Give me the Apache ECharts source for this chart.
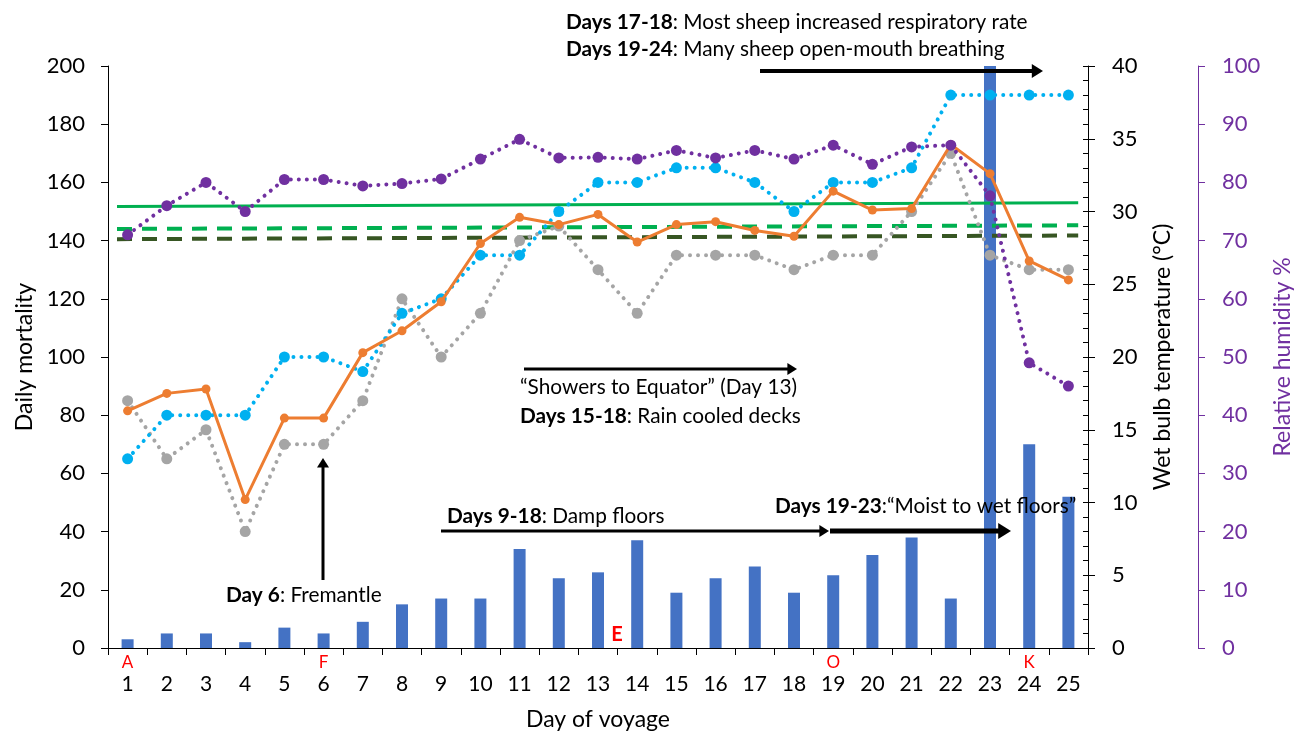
<!DOCTYPE html>
<html>
<head>
<meta charset="utf-8">
<script src="https://cdn.jsdelivr.net/npm/echarts@6/dist/echarts.min.js"></script>
<style>
html,body{margin:0;padding:0;background:#fff;}
#chart{width:1303px;height:731px;}
</style>
</head>
<body>
<div id="chart"></div>
<script>
// ---- data ----
const days = ['1','2','3','4','5','6','7','8','9','10','11','12','13','14','15','16','17','18','19','20','21','22','23','24','25'];
const portLetters = {'1':'A','6':'F','19':'O','24':'K'};
const dailyMortality = [3,5,5,2,7,5,9,15,17,17,34,24,26,37,19,24,28,19,25,32,38,17,200,70,52];
const wetBulbOrange = [16.3,17.5,17.8,10.2,15.8,15.8,20.3,21.8,23.8,27.8,29.6,29.1,29.8,27.9,29.1,29.3,28.7,28.3,31.4,30.1,30.2,34.6,32.6,26.6,25.3];
const tempBlue = [13,16,16,16,20,20,19,23,24,27,27,30,32,32,33,33,32,30,32,32,33,38,38,38,38];
const tempGrey = [17,13,15,8,14,14,17,24,20,23,28,29,26,23,27,27,27,26,27,27,30,34,27,26,26];
const relHumidity = [71,76,80,75,80.5,80.5,79.4,79.8,80.6,84,87.4,84.2,84.3,84,85.5,84.2,85.5,84,86.4,83.1,86.1,86.4,77.7,49,45];
const thresholdSolid = [[0.73,30.35],[25.25,30.6]];
const thresholdDashLight = [[0.73,28.8],[25.25,29.05]];
const thresholdDashDark = [[0.73,28.1],[25.25,28.35]];

const FONT = 'Lato, "Open Sans", sans-serif';
const chart = echarts.init(document.getElementById('chart'), null, {renderer:'canvas'});

const dotted = (color, w) => ({color: color, width: w, type: [0.01, 8], cap: 'round'});

function arrowH(x1, x2, y, w, head) {
  return [
    {type:'line', shape:{x1:x1, y1:y, x2:x2 - head*1.4, y2:y}, style:{stroke:'#000', lineWidth:w}, z:50},
    {type:'polygon', shape:{points:[[x2, y],[x2 - head*1.6, y - head],[x2 - head*1.6, y + head]]}, style:{fill:'#000'}, z:50}
  ];
}
function arrowUp(x, y1, y2, w, head) {
  return [
    {type:'line', shape:{x1:x, y1:y1, x2:x, y2:y2 + head*1.4}, style:{stroke:'#000', lineWidth:w}, z:50},
    {type:'polygon', shape:{points:[[x, y2],[x - head, y2 + head*1.6],[x + head, y2 + head*1.6]]}, style:{fill:'#000'}, z:50}
  ];
}
function label(x, y, text, size) {
  return {type:'text', x:x, y:y, z:50, style:{text:text, fontFamily:FONT, fontSize:size, fill:'#000', verticalAlign:'middle', align:'left',
    rich:{b:{fontWeight:'bold', fontFamily:FONT, fontSize:size, fill:'#000'}}}};
}

const TS = 20.8;
const graphics = [].concat(
  [label(566, 22, '{b|Days 17-18}: Most sheep increased respiratory rate', TS),
   label(566, 49, '{b|Days 19-24}: Many sheep open-mouth breathing', TS)],
  arrowH(760, 1043, 71, 4, 7),
  [label(520, 387, '\u201CShowers to Equator\u201D (Day 13)', TS),
   label(520, 416, '{b|Days 15-18}: Rain cooled decks', TS)],
  arrowH(524, 797, 369, 3, 6),
  [label(226, 595, '{b|Day 6}: Fremantle', TS)],
  arrowUp(323, 580, 458, 3, 6),
  [label(447, 516, '{b|Days 9-18}: Damp floors', TS)],
  arrowH(441, 829, 531, 3, 6),
  [label(775, 506, '{b|Days 19-23}:\u201CMoist to wet floors\u201D', TS)],
  arrowH(830, 1011, 531, 5, 8),
  [{type:'text', x:617, y:635, z:50, style:{text:'E', fontFamily:FONT, fontSize:20, fontWeight:'bold', fill:'#FF0000', align:'center', verticalAlign:'middle'}}]
);

const option = {
  animation: false,
  backgroundColor: '#fff',
  textStyle: {fontFamily: FONT},
  grid: {left:108, right:215, top:66, bottom:83, containLabel:false, outerBoundsMode:'none'},
  xAxis: [
    {type:'category', data: days, boundaryGap:true,
     axisLine:{lineStyle:{color:'#000', width:1}},
     axisTick:{show:true, length:7, lineStyle:{color:'#000'}},
     axisLabel:{margin:5, interval:0, fontFamily:FONT,
       formatter: function(v){ return '{r|' + (portLetters[v] || ' ') + '}\n{n|' + v + '}'; },
       rich:{r:{color:'#FF0000', fontSize:17, lineHeight:20, fontFamily:FONT},
             n:{color:'#000', fontSize:21, lineHeight:23, fontFamily:FONT}}},
     name:'Day of voyage', nameLocation:'middle', nameGap:60,
     nameTextStyle:{color:'#000', fontSize:23, fontFamily:FONT}},
    {type:'value', min:0.5, max:25.5, show:false}
  ],
  yAxis: [
    {type:'value', min:0, max:200, interval:20, position:'left',
     axisLine:{show:true, lineStyle:{color:'#000', width:1}},
     axisTick:{show:true, length:7, lineStyle:{color:'#000'}},
     splitLine:{show:false},
     axisLabel:{color:'#000', fontSize:22, margin:23, fontFamily:FONT},
     name:'Daily mortality', nameLocation:'middle', nameGap:68,
     nameTextStyle:{color:'#000', fontSize:23, fontFamily:FONT}},
    {type:'value', min:0, max:40, interval:5, position:'right', offset:0,
     axisLine:{show:true, lineStyle:{color:'#000', width:1}},
     axisTick:{show:true, length:7, lineStyle:{color:'#000'}},
     splitLine:{show:false},
     axisLabel:{color:'#000', fontSize:22, margin:24, fontFamily:FONT},
     name:'Wet bulb temperature (\u00B0C)', nameLocation:'middle', nameGap:63,
     nameTextStyle:{color:'#000', fontSize:23, fontFamily:FONT}},
    {type:'value', min:0, max:100, interval:10, position:'right', offset:110,
     axisLine:{show:true, lineStyle:{color:'#7030A0', width:1}},
     axisTick:{show:true, length:7, lineStyle:{color:'#7030A0'}},
     splitLine:{show:false},
     axisLabel:{color:'#7030A0', fontSize:22, margin:24, fontFamily:FONT},
     name:'Relative humidity %', nameLocation:'middle', nameGap:73,
     nameTextStyle:{color:'#7030A0', fontSize:23, fontFamily:FONT}},
    {type:'value', min:0, max:40, interval:1, position:'right', offset:0,
     axisLine:{show:false}, axisLabel:{show:false}, splitLine:{show:false},
     axisTick:{show:true, inside:true, length:5, lineStyle:{color:'#000'}}}
  ],
  series: [
    {name:'Daily mortality', type:'bar', data: dailyMortality, xAxisIndex:0, yAxisIndex:0,
     barWidth:12, itemStyle:{color:'#4472C4'}, z:1},
    {name:'Threshold 1', type:'line', data: thresholdSolid, xAxisIndex:1, yAxisIndex:1,
     symbol:'none', lineStyle:{color:'#00B050', width:3}, z:3},
    {name:'Threshold 2', type:'line', data: thresholdDashLight, xAxisIndex:1, yAxisIndex:1,
     symbol:'none', lineStyle:{color:'#00B050', width:4, type:[15,10]}, z:3},
    {name:'Threshold 3', type:'line', data: thresholdDashDark, xAxisIndex:1, yAxisIndex:1,
     symbol:'none', lineStyle:{color:'#375623', width:4, type:[15,10]}, z:3},
    {name:'Grey', type:'line', data: tempGrey, xAxisIndex:0, yAxisIndex:1,
     symbol:'circle', symbolSize:11, showAllSymbol:true, itemStyle:{color:'#A5A5A5'},
     lineStyle: dotted('#A5A5A5', 4), z:4},
    {name:'Blue', type:'line', data: tempBlue, xAxisIndex:0, yAxisIndex:1,
     symbol:'circle', symbolSize:11, showAllSymbol:true, itemStyle:{color:'#00B0F0'},
     lineStyle: dotted('#00B0F0', 4), z:5},
    {name:'Wet bulb', type:'line', data: wetBulbOrange, xAxisIndex:0, yAxisIndex:1,
     symbol:'circle', symbolSize:9, showAllSymbol:true, itemStyle:{color:'#ED7D31'},
     lineStyle:{color:'#ED7D31', width:3}, z:6},
    {name:'Relative humidity', type:'line', data: relHumidity, xAxisIndex:0, yAxisIndex:2,
     symbol:'circle', symbolSize:11, showAllSymbol:true, itemStyle:{color:'#7030A0'},
     lineStyle: dotted('#7030A0', 4), z:7}
  ],
  graphic: graphics
};
chart.setOption(option);
</script>
</body>
</html>
